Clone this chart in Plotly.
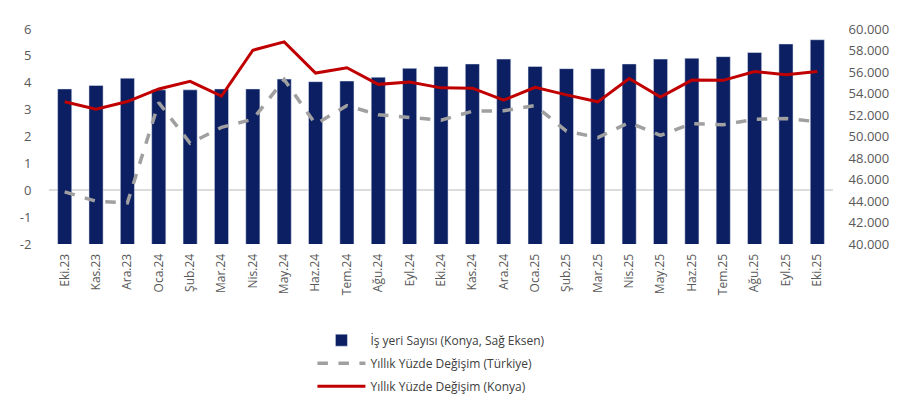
import plotly.graph_objects as go

categories = ["Eki.23", "Kas.23", "Ara.23", "Oca.24", "Şub.24", "Mar.24", "Nis.24", "May.24",
              "Haz.24", "Tem.24", "Ağu.24", "Eyl.24", "Eki.24", "Kas.24", "Ara.24", "Oca.25",
              "Şub.25", "Mar.25", "Nis.25", "May.25", "Haz.25", "Tem.25", "Ağu.25", "Eyl.25", "Eki.25"]

isyeri_konya = [54425, 54750, 55425, 54340, 54340, 54425, 54425, 55340, 55100, 55160, 55515,
                56340, 56520, 56750, 57200, 56520, 56310, 56310, 56750, 57200, 57280, 57430,
                57810, 58610, 59000]

yillik_turkiye = [-0.06, -0.41, -0.47, 3.26, 1.75, 2.34, 2.64, 4.12, 2.46, 3.15, 2.81, 2.70,
                  2.61, 2.94, 2.96, 3.15, 2.20, 1.96, 2.52, 2.04, 2.48, 2.44, 2.64, 2.67, 2.55]

yillik_konya = [3.29, 3.02, 3.30, 3.77, 4.05, 3.50, 5.21, 5.52, 4.36, 4.56, 3.94, 4.03, 3.81,
                3.80, 3.35, 3.83, 3.55, 3.29, 4.16, 3.47, 4.10, 4.09, 4.42, 4.30, 4.42]

left_ticks = [-2, -1, 0, 1, 2, 3, 4, 5, 6]
left_ticktext = ["-2", "-1", "0", "1", "2", "3", "4", "5", "6"]
right_ticks = [40000, 42000, 44000, 46000, 48000, 50000, 52000, 54000, 56000, 58000, 60000]

names = ["İş yeri Sayısı (Konya, Sağ Eksen)",
         "Yıllık Yüzde Değişim (Türkiye)",
         "Yıllık Yüzde Değişim (Konya)"]

font_family = "Open Sans, Liberation Sans, sans-serif"
gray_text = "#595959"

fig = go.Figure()
fig.add_trace(go.Bar(x=categories, y=isyeri_konya, name=names[0], marker_color="#0b1f62",
                     width=0.45, yaxis="y", legendgroup="a"))
fig.add_trace(go.Scatter(x=categories, y=yillik_turkiye, name=names[1], mode="lines",
                         line=dict(color="#a0a0a0", width=3.5, dash="dash"), yaxis="y2",
                         legendgroup="b"))
fig.add_trace(go.Scatter(x=categories, y=yillik_konya, name=names[2], mode="lines",
                         line=dict(color="#c00000", width=3), yaxis="y2", legendgroup="c"))

fig.update_layout(
    width=912, height=404,
    margin=dict(l=41, r=87, t=17, b=162),
    paper_bgcolor="white", plot_bgcolor="white",
    separators=",.",
    font=dict(family=font_family, size=12, color=gray_text),
    showlegend=True,
    legend=dict(x=0.336, y=-0.38, xanchor="left", yanchor="top", orientation="v",
                itemwidth=48, tracegroupgap=4, font=dict(size=12, color="#404040"),
                bgcolor="rgba(0,0,0,0)"),
    xaxis=dict(type="category", tickangle=-90, showgrid=False, showline=False,
               ticks="outside", ticklen=4, tickcolor="rgba(0,0,0,0)",
               tickfont=dict(size=12, color=gray_text)),
    yaxis=dict(side="right", range=[40000, 60000], tickvals=right_ticks, tickformat=",d",
               showgrid=False, zeroline=False, showline=False, ticks="outside", ticklen=12,
               tickcolor="rgba(0,0,0,0)", tickfont=dict(size=13, color=gray_text)),
    yaxis2=dict(overlaying="y", side="left", range=[-2, 6], tickvals=left_ticks,
                ticktext=left_ticktext, showgrid=False, zeroline=True, zerolinecolor="#dcdcdc",
                zerolinewidth=2, showline=False, ticks="outside", ticklen=14,
                tickcolor="rgba(0,0,0,0)", layer="above traces",
                tickfont=dict(size=13, color=gray_text)),
    bargap=0.55,
)

fig.write_html("out.html")
